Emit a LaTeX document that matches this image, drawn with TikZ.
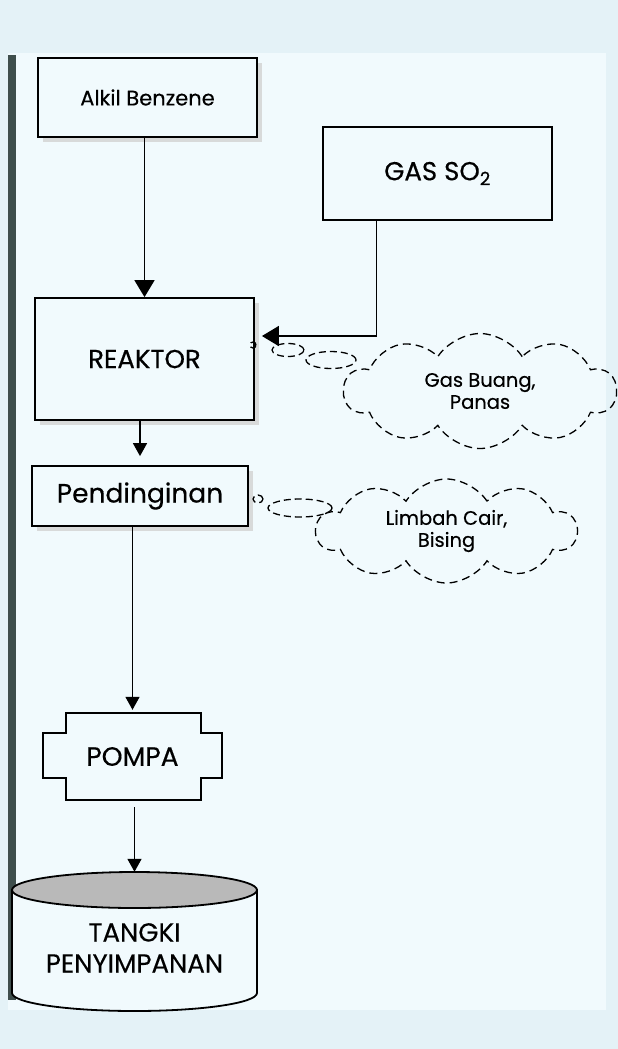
\documentclass[tikz,border=0pt]{standalone}
\usepackage{fontspec}
\setmainfont{Poppins}[FakeBold=0.4]
\usetikzlibrary{positioning, arrows.meta, shapes.geometric, shapes.symbols, shadows}

\definecolor{latar}{RGB}{228,242,247}
\definecolor{kertas}{RGB}{241,250,253}
\definecolor{tepi}{RGB}{62,78,76}

\tikzset{
  kotak/.style={draw, line width=1.8bp, fill=kertas, inner sep=0pt,
    drop shadow={shadow xshift=5bp, shadow yshift=-5bp, fill=gray!35, opacity=0.8}},
  limbah/.style={cloud, draw, cloud puffs=10, cloud puff arc=115, cloud ignores aspect,
    dash pattern=on 8bp off 5bp, line width=1.3bp, inner sep=0pt, align=center,
    font=\fontsize{19.5bp}{22bp}\selectfont},
  gelembung/.style={ellipse, draw, dash pattern=on 7bp off 4bp, line width=1.3bp, inner sep=0pt},
  alir/.style={line width=1.6bp, -{Triangle[length=17bp,width=20bp]}},
  alirkecil/.style={line width=1.6bp, -{Triangle[length=13bp,width=14bp]}},
}

\begin{document}
\begin{tikzpicture}[x=1bp, y=-1bp]
    % Background and sheet
    \useasboundingbox (0,0) rectangle (618,1049);
    \fill[latar] (0,0) rectangle (618,1049);
    \fill[kertas] (8,53) rectangle (606,1010);
    \fill[tepi] (8,55) rectangle (16,1000);

    % Process boxes
    \node[kotak, minimum width=219bp, minimum height=79bp, font=\fontsize{21bp}{24bp}\selectfont] (alkil) at (147.5,97.5) {Alkil Benzene};
    \node[draw, line width=1.8bp, fill=kertas, minimum width=229bp, minimum height=93bp, font=\fontsize{26bp}{30bp}\selectfont] (so2) at (437.5,173.5) {GAS SO\textsubscript{2}};
    \node[kotak, minimum width=219bp, minimum height=122bp, font=\fontsize{26bp}{30bp}\selectfont] (reaktor) at (144.5,359) {REAKTOR};
    \node[kotak, minimum width=216bp, minimum height=60bp, font=\fontsize{26.5bp}{30bp}\selectfont] (pend) at (140,496) {Pendinginan};

    % Pump
    \draw[line width=1.8bp, fill=kertas] (66,713) -- (201,713) -- (201,733) -- (222,733) -- (222,778) -- (201,778)
      -- (201,800) -- (66,800) -- (66,778) -- (43,778) -- (43,733) -- (66,733) -- cycle;
    \node[minimum width=135bp, minimum height=87bp, inner sep=0pt, font=\fontsize{26.5bp}{30bp}\selectfont] (pompa) at (132.5,756.5) {POMPA};

    % Storage tank
    \draw[line width=1.8bp, fill=kertas] (12,890) -- (12,993) arc[start angle=180, end angle=0, x radius=122.5, y radius=18] -- (257,890) -- cycle;
    \draw[line width=1.8bp, fill=gray!55] (134.5,890) ellipse [x radius=122.5, y radius=18];
    \node[minimum width=245bp, minimum height=139bp, inner sep=0pt, align=center, font=\fontsize{26bp}{31bp}\selectfont] (tangki) at (134.5,941.5) {\\TANGKI\\PENYIMPANAN};

    % Waste clouds
    \node[gelembung, minimum width=6bp, minimum height=6bp] (gb0) at (253,345) {};
    \node[gelembung, minimum width=32bp, minimum height=13bp] (gb1) at (288,350) {};
    \node[gelembung, minimum width=50bp, minimum height=17bp] (gb2) at (331,360) {};
    \node[limbah, minimum width=272bp, minimum height=115bp] (gasbuang) at (480,391) {Gas Buang,\\Panas};

    \node[gelembung, minimum width=10bp, minimum height=8bp] (lc0) at (258,499) {};
    \node[gelembung, minimum width=64bp, minimum height=18bp] (lc1) at (300,508) {};
    \node[limbah, minimum width=260bp, minimum height=104bp] (limbahcair) at (446.5,531) {Limbah Cair,\\Bising};

    % Flow lines
    \draw[alir] (reaktor.north |- alkil.south) -- (reaktor.north);
    \draw[alir, shorten >=7bp] ([xshift=-61bp]so2.south) |- ([yshift=23bp]reaktor.east);
    \draw[alirkecil, shorten >=9bp] (pend.north |- reaktor.south) -- (pend.north);
    \draw[alirkecil, shorten >=3bp] (pompa.north |- pend.south) -- (pompa.north);
    \draw[alirkecil, shorten <=7bp] (tangki.north |- pompa.south) -- (tangki.north);
\end{tikzpicture}
\end{document}
